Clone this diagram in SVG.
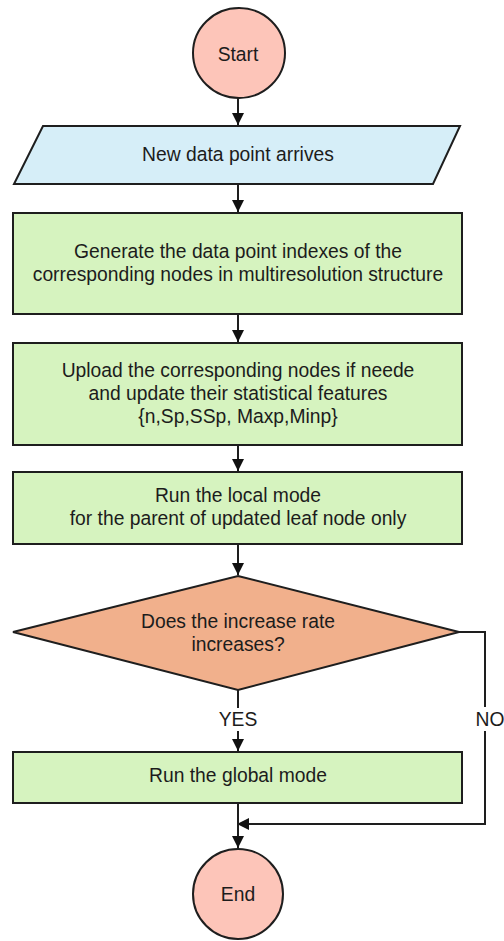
<svg xmlns="http://www.w3.org/2000/svg" width="504" height="941" viewBox="0 0 504 941">
  <style>
    .shape { stroke: #1e1e1e; stroke-width: 2; }
    .term { fill: #fdc5b9; }
    .io { fill: #d6eef8; }
    .proc { fill: #d6f3bf; }
    .dec { fill: #f1b08c; }
    .lbl { font-family: "Liberation Sans", Arial, sans-serif; font-size: 19.3px; fill: #1c1c1c; text-anchor: middle; }
    .edge { fill: none; stroke: #1e1e1e; stroke-width: 2; }
  </style>
  <defs>
    <marker id="arrow" markerUnits="userSpaceOnUse" markerWidth="13" markerHeight="13" refX="12" refY="6" orient="auto">
      <path d="M0,0 L12,6 L0,12 z" fill="#111"/>
    </marker>
  </defs>

  <rect x="0" y="0" width="504" height="941" fill="#ffffff"/>

  <!-- connectors -->
  <g id="connectors">
    <path class="edge" d="M238,98 L238,125" marker-end="url(#arrow)"/>
    <path class="edge" d="M238,184 L238,212" marker-end="url(#arrow)"/>
    <path class="edge" d="M238,314 L238,342" marker-end="url(#arrow)"/>
    <path class="edge" d="M238,445 L238,471" marker-end="url(#arrow)"/>
    <path class="edge" d="M238,544 L238,575" marker-end="url(#arrow)"/>
    <path class="edge" d="M238,690 L238,708"/>
    <path class="edge" d="M238,731 L238,751" marker-end="url(#arrow)"/>
    <path class="edge" d="M459,632 L485,632 L485,824 L237,824" marker-end="url(#arrow)"/>
    <path class="edge" d="M238,803 L238,848" marker-end="url(#arrow)"/>
    <rect x="472" y="707" width="32" height="24" fill="#ffffff"/>
    <text class="lbl" x="238" y="726">YES</text>
    <text class="lbl" x="490" y="726">NO</text>
  </g>

  <g id="start">
    <ellipse class="shape term" cx="239" cy="53" rx="46" ry="45"/>
    <text class="lbl" x="238" y="61">Start</text>
  </g>

  <g id="new-data">
    <polygon class="shape io" points="43,126 460,126 433,184 14,184"/>
    <text class="lbl" x="238" y="161">New data point arrives</text>
  </g>

  <g id="generate">
    <rect class="shape proc" x="13" y="213" width="449" height="101"/>
    <text class="lbl" x="238" y="258">Generate the data point indexes of the</text>
    <text class="lbl" x="238" y="281">corresponding nodes in multiresolution structure</text>
  </g>

  <g id="upload">
    <rect class="shape proc" x="13" y="343" width="449" height="102"/>
    <text class="lbl" x="238" y="377">Upload the corresponding nodes if neede</text>
    <text class="lbl" x="238" y="400">and update their statistical features</text>
    <text class="lbl" x="238" y="423">{n,Sp,SSp, Maxp,Minp}</text>
  </g>

  <g id="local-mode">
    <rect class="shape proc" x="13" y="472" width="449" height="72"/>
    <text class="lbl" x="238" y="502">Run the local mode</text>
    <text class="lbl" x="238" y="525">for the parent of updated leaf node only</text>
  </g>

  <g id="decision">
    <polygon class="shape dec" points="238,576 459,632 238,690 13,632"/>
    <text class="lbl" x="238" y="628">Does the increase rate</text>
    <text class="lbl" x="238" y="651">increases?</text>
  </g>

  <g id="global-mode">
    <rect class="shape proc" x="13" y="752" width="449" height="51"/>
    <text class="lbl" x="238" y="782">Run the global mode</text>
  </g>

  <g id="end">
    <ellipse class="shape term" cx="238" cy="894" rx="45" ry="45"/>
    <text class="lbl" x="238" y="901">End</text>
  </g>
</svg>
